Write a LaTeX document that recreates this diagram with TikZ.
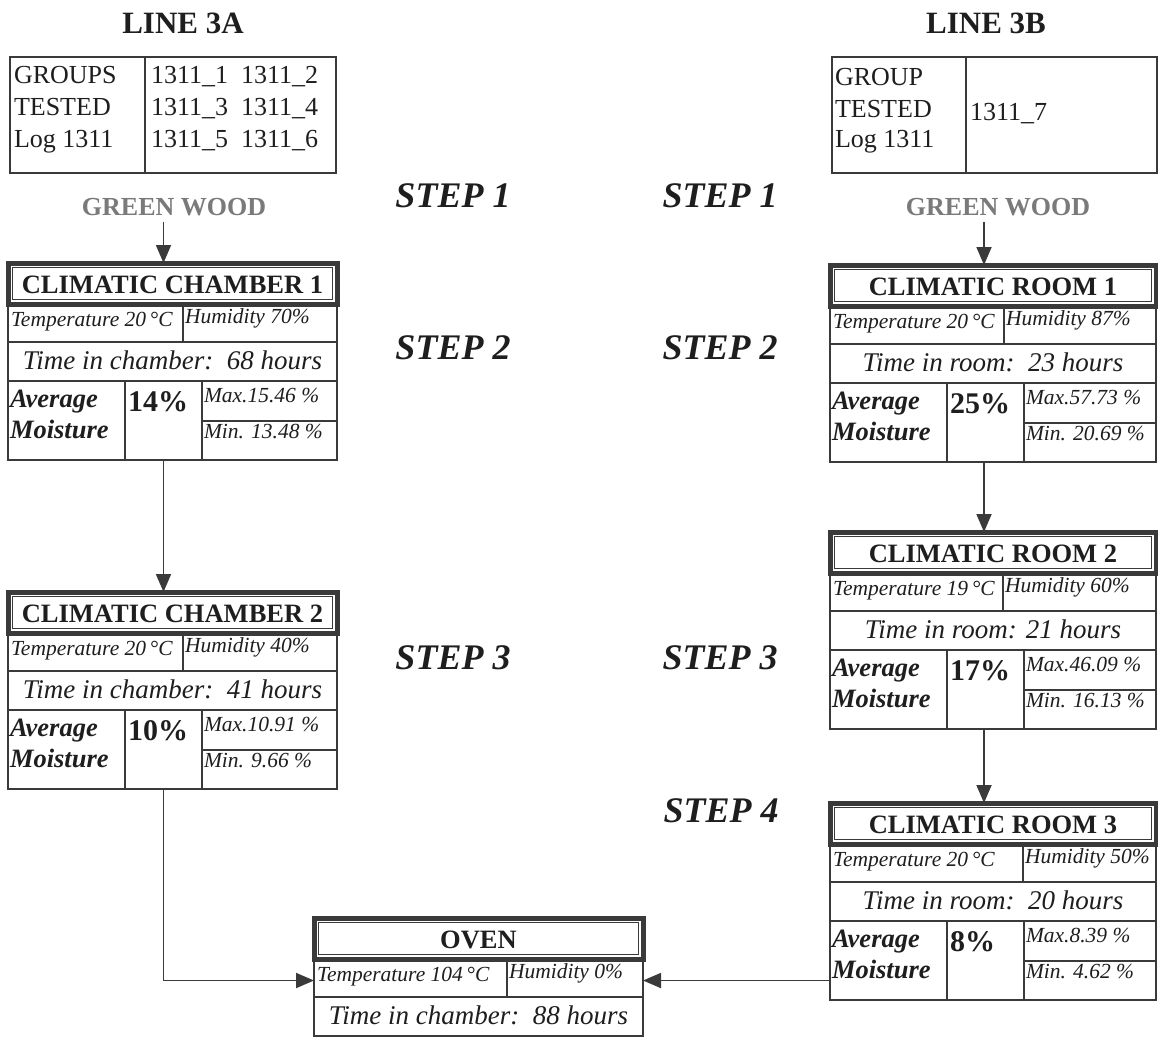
\documentclass[tikz,border=0pt]{standalone}
\usepackage{fontspec}
\setmainfont{Liberation Serif}
\usetikzlibrary{arrows.meta,calc}
\definecolor{ink}{HTML}{1E1E1E}
\definecolor{framec}{HTML}{3A3A3A}
\definecolor{greentxt}{HTML}{7A7A7A}
\newcommand\fs[1]{\fontsize{#1}{#1}\selectfont}
\tikzset{
  lbl/.style={inner sep=0pt, outer sep=0pt, text=ink},
  boxarea/.style={inner sep=0pt, outer sep=0pt, anchor=north west},
  titlefr/.style={draw=framec, line width=5pt},
  innerfr/.style={draw=framec, line width=0.8pt},
  rowfr/.style={draw=framec, line width=2.6pt},
  thinfr/.style={draw=framec, line width=1.2pt},
  arr/.style={draw=framec, line width=1.8pt, -{Triangle[length=18pt,width=15pt]}},
  titletxt/.style={lbl, font=\fs{26.5}\bfseries, anchor=base},
  smalltxt/.style={lbl, font=\fs{21.5}\itshape, anchor=base west},
  timetxt/.style={lbl, font=\fs{27}\itshape, anchor=base},
  avgtxt/.style={lbl, font=\fs{26.5}\bfseries\itshape, anchor=base west},
  pcttxt/.style={lbl, font=\fs{30}\bfseries, anchor=base west},
  steptxt/.style={lbl, font=\fs{36}\bfseries\itshape},
  headtxt/.style={lbl, font=\fs{31}\bfseries},
  gwtxt/.style={lbl, font=\fs{26}\bfseries, text=greentxt},
  tabtxt/.style={lbl, font=\fs{26}, anchor=base west},
}
% name, W, tdiv, title, temp, hum, time
\newcommand\boxtop[7]{%
  \begin{scope}[shift={(#1.north west)}]
    \draw[titlefr] (0,0) rectangle (#2,41);
    \draw[innerfr] (4.5,4.5) rectangle ({#2-4.5},36.5);
    \node[titletxt] (#1-title) at ({#2/2},30) {#4};
    \draw[rowfr] (0,41) rectangle (#2,79);
    \draw[rowfr] (#3,41) -- (#3,79);
    \node[smalltxt] (#1-temp) at (3,63) {#5};
    \node[smalltxt] (#1-hum) at ({#3+2},60) {#6};
    \draw[rowfr] (0,79) rectangle (#2,118);
    \node[timetxt] (#1-time) at ({#2/2},106) {#7};
  \end{scope}}
% name, W, pct, max, min
\newcommand\boxmoist[5]{%
  \begin{scope}[shift={(#1.north west)}]
    \draw[thinfr] (0,118) rectangle (#2,197);
    \draw[thinfr] (117,118) -- (117,197) (194,118) -- (194,197) (194,158) -- (#2,158);
    \node[avgtxt] (#1-avg) at (2,144) {Average};
    \node[avgtxt] (#1-moist) at (2,175) {Moisture};
    \node[pcttxt] (#1-pct) at (120,148) {#3};
    \node[smalltxt] (#1-max) at (196,139) {#4};
    \node[smalltxt] (#1-min) at (196,175) {#5};
  \end{scope}}
\begin{document}
\begin{tikzpicture}[x=1pt,y=-1pt]
\fill[white] (0,0) rectangle (1158,1037);
\useasboundingbox (0,0) rectangle (1158,1037);

% headings
\node[headtxt] (hA) at (183,23) {LINE 3A};
\node[headtxt] (hB) at (986,23) {LINE 3B};

% tables
\node[boxarea, draw=framec, line width=1.2pt, minimum width=326pt, minimum height=116pt] (tabA) at (10,57) {};
\draw[thinfr] ($(tabA.north west)+(135,0)$) -- ($(tabA.south west)+(135,0)$);
\node[tabtxt] (tA1) at (14,83) {GROUPS};
\node[tabtxt] (tA2) at (14,115) {TESTED};
\node[tabtxt] (tA3) at (14,147) {Log 1311};
\node[tabtxt] (tA4) at (151,83) {1311\_1\ \ 1311\_2};
\node[tabtxt] (tA5) at (151,115) {1311\_3\ \ 1311\_4};
\node[tabtxt] (tA6) at (151,147) {1311\_5\ \ 1311\_6};

\node[boxarea, draw=framec, line width=1.2pt, minimum width=325pt, minimum height=116pt] (tabB) at (832,57) {};
\draw[thinfr] ($(tabB.north west)+(134,0)$) -- ($(tabB.south west)+(134,0)$);
\node[tabtxt] (tB1) at (835,85) {GROUP};
\node[tabtxt] (tB2) at (835,117) {TESTED};
\node[tabtxt] (tB3) at (835,147) {Log 1311};
\node[tabtxt] (tB4) at (970,120) {1311\_7};

% green wood
\node[gwtxt] (gw1) at (174,207) {GREEN WOOD};
\node[gwtxt] (gw2) at (998,207) {GREEN WOOD};

% steps
\node[steptxt] (s1a) at (453,196) {STEP 1};
\node[steptxt] (s1b) at (720,196) {STEP 1};
\node[steptxt] (s2a) at (453,348) {STEP 2};
\node[steptxt] (s2b) at (720,348) {STEP 2};
\node[steptxt] (s3a) at (453,658) {STEP 3};
\node[steptxt] (s3b) at (720,658) {STEP 3};
\node[steptxt] (s4b) at (721,811) {STEP 4};

% boxes
\node[boxarea, minimum width=329pt, minimum height=197pt] (ch1) at (8,263) {};
\node[boxarea, minimum width=329pt, minimum height=197pt] (ch2) at (8,592) {};
\node[boxarea, minimum width=326pt, minimum height=197pt] (rm1) at (830,265) {};
\node[boxarea, minimum width=326pt, minimum height=197pt] (rm2) at (830,532) {};
\node[boxarea, minimum width=326pt, minimum height=197pt] (rm3) at (830,803) {};
\node[boxarea, minimum width=329pt, minimum height=118pt] (ov) at (314,918) {};

\boxtop{ch1}{329}{175}{CLIMATIC CHAMBER 1}{Temperature 20\,°C}{Humidity 70\%}{Time in chamber:\ \ 68 hours}
\boxmoist{ch1}{329}{14\%}{Max.15.46 \%}{Min. 13.48 \%}
\boxtop{ch2}{329}{175}{CLIMATIC CHAMBER 2}{Temperature 20\,°C}{Humidity 40\%}{Time in chamber:\ \ 41 hours}
\boxmoist{ch2}{329}{10\%}{Max.10.91 \%}{Min. 9.66 \%}
\boxtop{rm1}{326}{174}{CLIMATIC ROOM 1}{Temperature 20\,°C}{Humidity 87\%}{Time in room:\ \ 23 hours}
\boxmoist{rm1}{326}{25\%}{Max.57.73 \%}{Min. 20.69 \%}
\boxtop{rm2}{326}{173}{CLIMATIC ROOM 2}{Temperature 19\,°C}{Humidity 60\%}{Time in room: 21 hours}
\boxmoist{rm2}{326}{17\%}{Max.46.09 \%}{Min. 16.13 \%}
\boxtop{rm3}{326}{193}{CLIMATIC ROOM 3}{Temperature 20\,°C}{Humidity 50\%}{Time in room:\ \ 20 hours}
\boxmoist{rm3}{326}{8\%}{Max.8.39 \%}{Min. 4.62 \%}
\boxtop{ov}{329}{193}{OVEN}{Temperature 104\,°C}{Humidity 0\%}{Time in chamber:\ \ 88 hours}

% connectors
\coordinate (ovW) at ([yshift=-3.5pt]ov.west);
\coordinate (ovE) at ([yshift=-3.5pt]ov.east);
\coordinate (ch1N) at ([xshift=-9pt]ch1.north);
\coordinate (ch1S) at ([xshift=-9pt]ch1.south);
\coordinate (ch2N) at ([xshift=-9pt]ch2.north);
\coordinate (ch2S) at ([xshift=-9pt]ch2.south);
\coordinate (rm1N) at ([xshift=-9pt]rm1.north);
\coordinate (rm1S) at ([xshift=-9pt]rm1.south);
\coordinate (rm2N) at ([xshift=-9pt]rm2.north);
\coordinate (rm2S) at ([xshift=-9pt]rm2.south);
\coordinate (rm3N) at ([xshift=-9pt]rm3.north);
\draw[arr, shorten <=6pt] (ch1N |- gw1.south) -- (ch1N);
\draw[arr] (ch1S) -- (ch2N);
\draw[arr] (ch2S) |- (ovW);
\draw[arr, shorten <=6pt] (rm1N |- gw2.south) -- (rm1N);
\draw[arr] (rm1S) -- (rm2N);
\draw[arr] (rm2S) -- (rm3N);
\draw[arr] (rm3.west |- ovE) -- (ovE);
\end{tikzpicture}
\end{document}
